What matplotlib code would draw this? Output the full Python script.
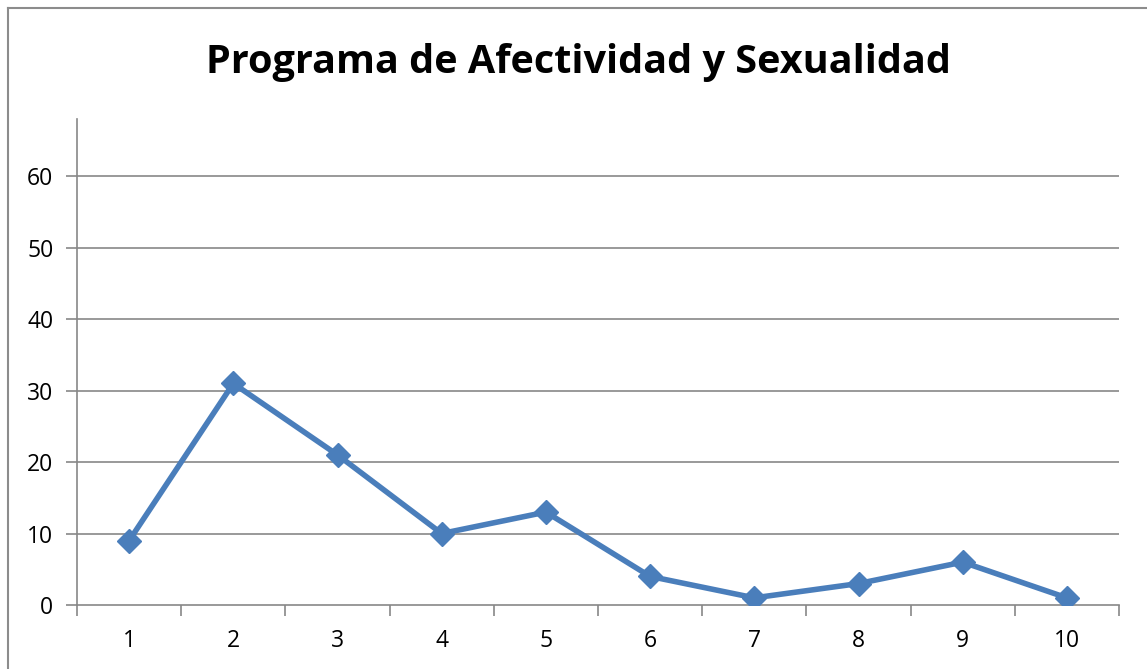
import matplotlib
matplotlib.use("Agg")
import matplotlib.pyplot as plt
from matplotlib.lines import Line2D

categories = ["1", "2", "3", "4", "5", "6", "7", "8", "9", "10"]
values = [9, 31, 21, 10, 13, 4, 1, 3, 6, 1]
yticks = [0, 10, 20, 30, 40, 50, 60]
title = "Programa de Afectividad y Sexualidad"

plt.rcParams['font.family'] = ['Open Sans', 'DejaVu Sans']

W, H = 1147, 669
fig = plt.figure(figsize=(W/100, H/100), dpi=100)
ax = fig.add_axes([77/W, 1-605/H, (1119-77)/W, (605-119)/H])

grid_c = "#878787"
x = list(range(1, len(categories)+1))
ax.plot(x, values, color="#4A7EBB", lw=4, marker="D", ms=12.5, zorder=3)

ax.set_xlim(0.5, len(categories)+0.5)
ax.set_ylim(0, 68)
ax.set_yticks(yticks)
ax.set_xticks(x)
ax.set_xticklabels(categories)
ax.set_xticks([i+0.5 for i in range(0, len(categories)+1)], minor=True)
ax.tick_params(axis='x', which='major', length=0, pad=17, labelsize=16.5)
ax.tick_params(axis='x', which='minor', length=8, width=1.2, color=grid_c)
ax.tick_params(axis='y', length=8, width=1.2, color=grid_c, labelsize=16.5, pad=9)
for t in yticks[1:]:
    ax.axhline(t, color=grid_c, lw=1.2, zorder=1)
for s in ['top', 'right']:
    ax.spines[s].set_visible(False)
for s in ['left', 'bottom']:
    ax.spines[s].set_color(grid_c)
    ax.spines[s].set_linewidth(1.2)

fig.text(578/W, 1-62/H, title, ha='center', va='center', fontsize=28.5, fontweight='bold')

# chart border
fig.add_artist(Line2D([8/W, 8/W], [0, 1-7.5/H], color="#8c8c8c", lw=1.5, transform=fig.transFigure))
fig.add_artist(Line2D([8/W, 1], [1-7.5/H, 1-7.5/H], color="#8c8c8c", lw=1.5, transform=fig.transFigure))

fig.savefig("out.png", dpi=100)
